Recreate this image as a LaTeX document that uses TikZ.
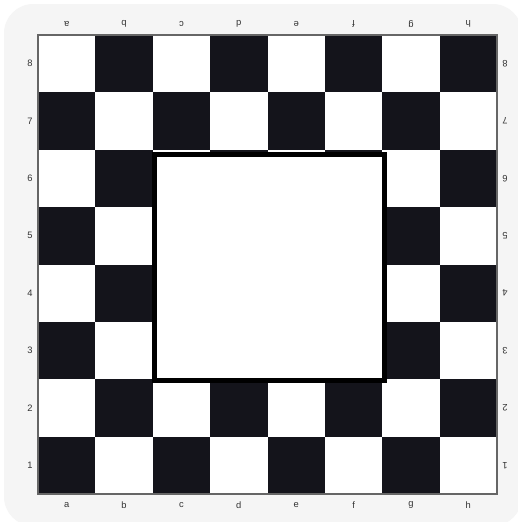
\documentclass[tikz,border=0pt]{standalone}
\usepackage{fontspec}
\setmainfont{Liberation Sans}
\begin{document}
\begin{tikzpicture}[x=0.75pt,y=-0.75pt,
  darksq/.style={fill=sqdark},
  coord/.style={font=\fontsize{7}{8}\selectfont, text=black!80, inner sep=0pt},
  flipped/.style={coord, rotate=180}]
\definecolor{sqdark}{HTML}{14141B}
\definecolor{bgpanel}{HTML}{F5F5F5}
\useasboundingbox (0,0) rectangle (518,522);
\fill[white] (0,0) rectangle (518,522);
\fill[bgpanel, rounded corners=22] (4,4) rectangle (522,526);
\fill[white] (38,35) rectangle (497,494);
\foreach \r in {0,...,7} {
  \foreach \c in {0,...,7} {
    \pgfmathtruncatemacro{\parity}{mod(\r+\c,2)}
    \ifnum\parity=1
      \fill[darksq] ({38+57.375*\c},{35+57.375*\r}) rectangle ++(57.375,57.375);
    \fi
  }
}
\draw[black!60, line width=1.1] (38,35) rectangle (497,494);
\fill[white] (154.5,154.5) rectangle (384.5,380.5);
\draw[black, line width=3.8] (154.5,154.5) rectangle (384.5,380.5);
\foreach \l [count=\i from 0] in {a,b,c,d,e,f,g,h} {
  \node[coord] (bot\l) at ({38+57.375*(\i+0.5)},505) {\l};
  \node[flipped] (top\l) at ({38+57.375*(\i+0.5)},24) {\l};
}
\foreach \n [count=\i from 0] in {8,7,6,5,4,3,2,1} {
  \node[coord] (left\n) at (30,{35+57.375*(\i+0.5)}) {\n};
  \node[flipped] (right\n) at (505,{35+57.375*(\i+0.5)}) {\n};
}
\end{tikzpicture}
\end{document}
